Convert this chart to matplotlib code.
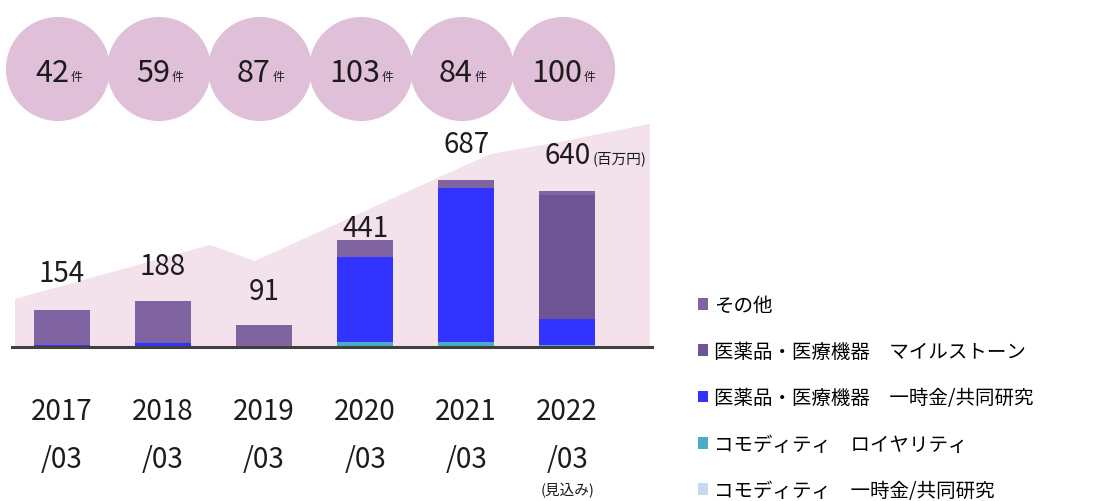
import matplotlib
matplotlib.use("Agg")
import matplotlib.pyplot as plt
from matplotlib.patches import Ellipse, Polygon
from matplotlib.transforms import blended_transform_factory
import numpy as np

plt.rcParams['font.family'] = ['Noto Sans CJK JP', 'DejaVu Sans']

# fiscal years and deal counts
years = ['2017', '2018', '2019', '2020', '2021', '2022']
deal_counts = [42, 59, 87, 103, 84, 100]
totals = [154, 188, 91, 441, 687, 640]  # 百万円

# revenue breakdown (bottom -> top of each stack)
commodity_upfront = [0, 0, 0, 0, 0, 0]
commodity_royalty = [0, 0, 0, 19, 22, 9]
pharma_upfront = [10, 15, 0, 350, 632, 105]
pharma_milestone = [0, 0, 0, 0, 0, 510]
other = [144, 173, 91, 72, 33, 16]

series = [
    ('コモディティ　一時金/共同研究', commodity_upfront, '#c6d9f1'),
    ('コモディティ　ロイヤリティ', commodity_royalty, '#4bacc6'),
    ('医薬品・医療機器　一時金/共同研究', pharma_upfront, '#3333ff'),
    ('医薬品・医療機器　マイルストーン', pharma_milestone, '#6f5595'),
    ('その他', other, '#8064a2'),
]

# decorative background band
band_x = [-0.465, 1.465, 1.91, 4.24, 4.93, 5.82]
band_y = [198, 420, 354, 794, 844, 918]

W, H = 1111, 502
fig = plt.figure(figsize=(W / 100, H / 100), dpi=100)
ink = '#1c1c1c'

left, right = 12 / W, 652 / W
ax = fig.add_axes([left, (H - 348) / H, right - left, 228 / H])
ax.set_xlim(-0.495, 5.84)
ax.set_ylim(0, 938)
ax.axis('off')

x = np.arange(len(years))

poly = list(zip(band_x, band_y)) + [(band_x[-1], 0), (band_x[0], 0)]
ax.add_patch(Polygon(poly, closed=True, facecolor='#f3e1ec', edgecolor='none', zorder=0))

bottom = np.zeros(len(years))
handles = []
for label, vals, color in series:
    b = ax.bar(x, vals, width=0.55, bottom=bottom, color=color, zorder=2, label=label)
    handles.append(b)
    bottom += np.array(vals)

ax.axhline(0, color='#404040', lw=2.2, zorder=3, clip_on=False)

# total labels above each bar
label_offset = [150, 145, 140, 50, 150, 148]
for i, t in enumerate(totals):
    ax.text(x[i], t + label_offset[i], str(t), ha='center', va='center',
            fontsize=20, color=ink)
txt = ax.texts[-1]
ax.annotate('(百万円)', xy=(1, 0.18), xycoords=txt, xytext=(2, 0),
            textcoords='offset points', ha='left', va='bottom',
            fontsize=10.5, color=ink)

# year labels under the axis
tr = blended_transform_factory(ax.transData, fig.transFigure)
for i, y in enumerate(years):
    ax.text(x[i], (H - 412) / H, y, transform=tr, ha='center', va='center',
            fontsize=20, color=ink)
    ax.text(x[i], (H - 460) / H, '/03', transform=tr, ha='center', va='center',
            fontsize=20, color=ink)
ax.text(x[-1], (H - 491) / H, '(見込み)', transform=tr, ha='center', va='center',
        fontsize=10.5, color=ink)

# deal count bubbles
axt = fig.add_axes([left, (H - 130) / H, right - left, 125 / H])
axt.set_xlim(-0.495, 5.84)
axt.set_ylim(130, 5)
axt.axis('off')
for i, n in enumerate(deal_counts):
    axt.add_patch(Ellipse((x[i] - 0.04, 70), width=1.03, height=104,
                          facecolor='#e0bfd8', edgecolor='none', clip_on=False))
    num = axt.text(x[i] - 0.1, 73, str(n), ha='center', va='center',
                   fontsize=22, color=ink)
    axt.annotate('件', xy=(1, 0.14), xycoords=num, xytext=(1, 0),
                 textcoords='offset points', ha='left', va='bottom',
                 fontsize=8.5, color=ink)

fig.legend(handles=handles[::-1], loc='upper left',
           bbox_to_anchor=(690 / W, (H - 288) / H), frameon=False,
           fontsize=14, handlelength=0.55, handleheight=0.55,
           handletextpad=0.3, labelspacing=1.3, borderaxespad=0)

fig.savefig('out.png', dpi=100)
